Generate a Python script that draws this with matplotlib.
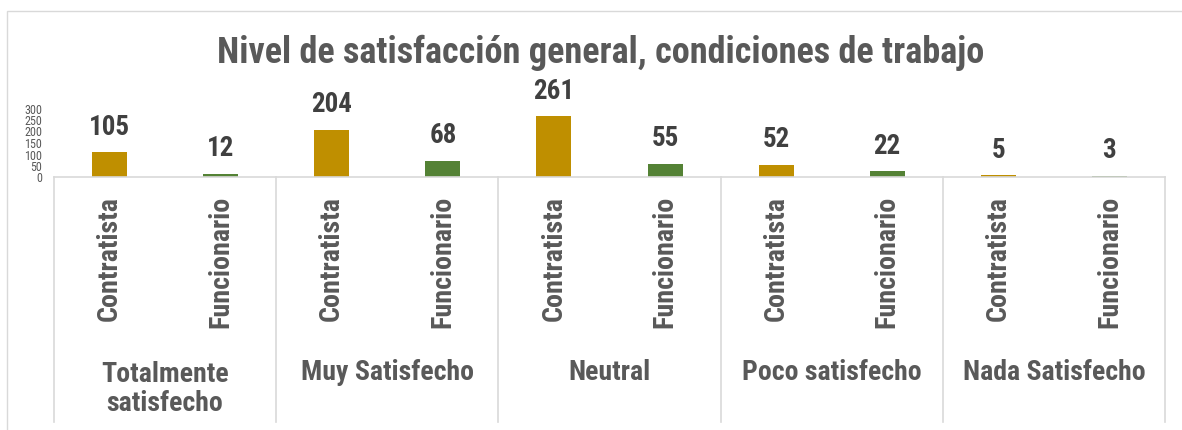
import matplotlib
matplotlib.use("Agg")
import matplotlib.pyplot as plt
from matplotlib import font_manager, transforms
from matplotlib.lines import Line2D
from matplotlib.patches import Rectangle

title = "Nivel de satisfacción general, condiciones de trabajo"
groups = ["Totalmente\nsatisfecho", "Muy Satisfecho", "Neutral", "Poco satisfecho", "Nada Satisfecho"]
series = ["Contratista", "Funcionario"]
contratista = [105, 204, 261, 52, 5]
funcionario = [12, 68, 55, 22, 3]
yticks = [0, 50, 100, 150, 200, 250, 300]

names = {f.name for f in font_manager.fontManager.ttflist}
narrow = next((n for n in ["Roboto Condensed", "PT Sans Narrow", "Archivo Narrow", "Liberation Sans"] if n in names), "DejaVu Sans")
plt.rcParams['font.family'] = [narrow, 'DejaVu Sans']

W, H = 1182, 431
fig = plt.figure(figsize=(W/100, H/100), dpi=100)
fig.patch.set_facecolor("white")
renderer = fig.canvas.get_renderer()

def fit_size(s, target_px, base=20, rotation=0, weight="bold"):
    t = fig.text(0, 0, s, fontsize=base, fontweight=weight, rotation=rotation)
    bb = t.get_window_extent(renderer)
    t.remove()
    size = bb.height if rotation else bb.width
    return base * target_px / size

fs_title = fit_size(title, 768)
fs_group = fit_size("Muy Satisfecho", 173)
fs_cat = fit_size("Contratista", 125, rotation=90)
fs_val = fit_size("261", 41)
fs_ytick = fit_size("300", 18, weight="normal")

# outer chart frame (only left/top visible, cropped)
fig.patches.append(Rectangle((7/W, -0.2), 1.3, 1 - 12/H + 0.2, transform=fig.transFigure,
                             fill=False, edgecolor="#D9D9D9", linewidth=1.0, clip_on=False))

ax_left, ax_right = 54/W, 1165/W
y0_px, y300_px = 177.5, 108.5
ax = fig.add_axes([ax_left, 1 - y0_px/H, ax_right - ax_left, (y0_px - y300_px)/H])

colors = ["#BF8F00", "#548235"]
cats, vals, cols = [], [], []
for g, c, f in zip(groups, contratista, funcionario):
    cats += series
    vals += [c, f]
    cols += colors
xs = list(range(len(vals)))
ax.bar(xs, vals, width=0.315, color=cols)

for x, v in zip(xs, vals):
    ax.annotate(str(v), (x, v), xytext=(0, 13.5), textcoords="offset points",
                ha="center", va="baseline", fontsize=fs_val, fontweight="bold", color="#404040")

ax.set_xlim(-0.5, len(vals) - 0.5)
ax.set_ylim(0, 300)
ax.set_yticks(yticks)
ax.set_yticklabels([str(t) for t in yticks], fontsize=fs_ytick, color="#595959")
ax.tick_params(axis="y", length=0, pad=8.5)
ax.set_xticks(xs)
ax.set_xticklabels(cats, rotation=90, fontsize=fs_cat, fontweight="bold", color="#595959", va="top", ha="center")
ax.tick_params(axis="x", length=0, pad=13.5)
for s in ["top", "right", "left"]:
    ax.spines[s].set_visible(False)
ax.spines["bottom"].set_color("#D9D9D9")
ax.spines["bottom"].set_linewidth(1.2)
ax.set_facecolor("none")

bt = transforms.blended_transform_factory(ax.transData, fig.transFigure)
for i in range(len(groups) + 1):
    xb = i * 2 - 0.5
    fig.add_artist(Line2D([xb, xb], [1 - y0_px/H, 1 - 423/H], transform=bt,
                          color="#D9D9D9", linewidth=1.2, clip_on=False))
for i, g in enumerate(groups):
    cy = 373 if "\n" not in g else 389
    fig.text(i * 2 + 0.5, 1 - cy/H, g, transform=bt, ha="center", va="center",
             fontsize=fs_group, fontweight="bold", color="#595959", linespacing=1.05)

fig.text(601/W, 1 - 53/H, title, ha="center", va="center", fontsize=fs_title,
         fontweight="bold", color="#595959")

fig.savefig("out.png", dpi=100, facecolor="white")
